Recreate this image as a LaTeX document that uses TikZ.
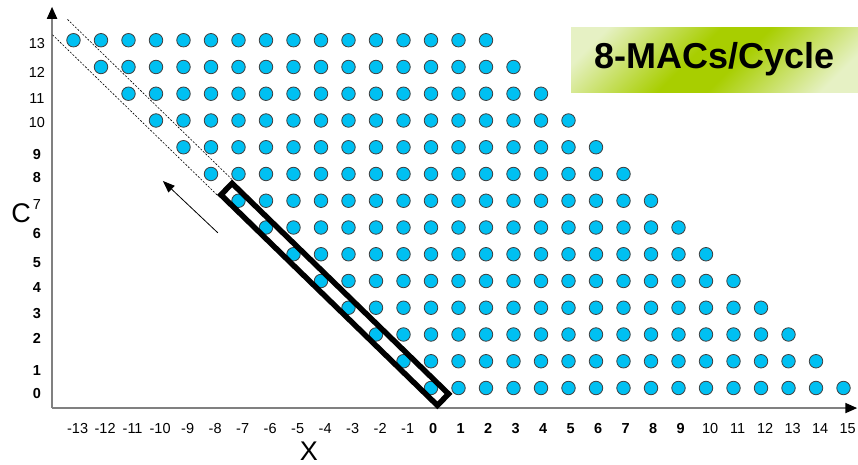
\documentclass[tikz,border=0pt]{standalone}
\usepackage{fontspec}
\setmainfont{Liberation Sans}
\usetikzlibrary{arrows.meta,calc,positioning}

\definecolor{dotblue}{RGB}{0,192,242}
\definecolor{axisgray}{RGB}{128,128,128}
\definecolor{macpale}{RGB}{230,241,196}
\definecolor{macgreen}{RGB}{168,206,0}
\pgfdeclareverticalshading{macband}{100bp}{color(0bp)=(macpale); color(22bp)=(macpale);
    color(45bp)=(macgreen); color(55bp)=(macgreen); color(78bp)=(macpale); color(100bp)=(macpale)}

\begin{document}
\begin{tikzpicture}[
    x=27.5pt, y=26.75pt,
    dot/.style={circle, draw=black!75, line width=0.8pt, fill=dotblue, minimum size=13.5pt, inner sep=0pt},
    axis/.style={line width=2pt, axisgray, -{Triangle[length=12pt,width=10pt,color=black]}},
    tick/.style={font=\fontsize{14.5}{16}\selectfont, inner sep=0pt},
    btick/.style={font=\fontsize{14.5}{16}\selectfont\bfseries, inner sep=0pt},
    axlabel/.style={font=\fontsize{27}{30}\selectfont, inner sep=0pt},
    window/.style={draw=black, line width=5.5pt, minimum width=302pt, minimum height=16pt, inner sep=0pt},
    guide/.style={dash pattern=on 2pt off 1.5pt, line width=0.6pt},
    shiftarr/.style={-{Triangle[length=12pt,width=9pt]}, line width=0.8pt},
    macbox/.style={minimum width=287pt, minimum height=65pt, inner sep=0pt,
        font=\fontsize{36}{40}\selectfont\bfseries,
        shade, shading=macband, shading angle=45},
]
    \useasboundingbox (-431pt,-77pt) rectangle (427pt,388pt);

    % axes
    \coordinate (org) at (-13.78,-0.75);
    \coordinate (ytop) at (-13.78,14.25);
    \coordinate (xend) at (15.5,-0.75);
    \draw[axis] (org) -- (ytop);
    \draw[axis] (org) -- (xend);

    % lattice of MACs
    \foreach \c in {0,...,13}{
        \foreach \k in {0,...,15}{
            \node[dot] (d\c-\k) at ({\k-\c},\c) {};
        }
    }

    % tick labels
    \foreach \c/\dy in {0/-0.19,1/-0.34,2/-0.15,3/-0.22,4/-0.26,5/-0.30,6/-0.22,8/-0.15,9/-0.26}
        \node[btick] (yl\c) at (-14.33,\c+\dy) {\c};
    \foreach \c/\dy in {7/-0.13,10/-0.07,11/-0.19,12/-0.19,13/-0.11}
        \node[tick] (yl\c) at (-14.33,\c+\dy) {\c};
    \foreach \i in {-13,...,-1}
        \node[tick] (xl\i) at (\i+0.15,-1.5) {\i};
    \foreach \i in {0,...,9}
        \node[btick] (xl\i) at (\i+0.08,-1.5) {\i};
    \foreach \i in {10,...,15}
        \node[tick] (xl\i) at (\i+0.15,-1.5) {\i};

    \node[axlabel] (clab) at (-14.9,6.55) {C};
    \node[axlabel] (xlab) at (-4.44,-2.38) {X};

    % the 8 MACs of one cycle
    \path (d7-0.center) -- node[window, sloped] (win) {} (d0-0.center);
    \draw[guide] (win.north west) -- ($(win.north west)!-0.75!(win.north east)$);
    \draw[guide] (win.south west) -- ($(win.south west)!-0.75!(win.south east)$);

    \coordinate (arrtail) at (-7.75,5.8);
    \coordinate (arrhead) at (-9.75,7.74);
    \draw[shiftarr] (arrtail) -- (arrhead);

    \node[macbox] (mac) at (10.31,12.28) {8-MACs/Cycle};
\end{tikzpicture}
\end{document}
